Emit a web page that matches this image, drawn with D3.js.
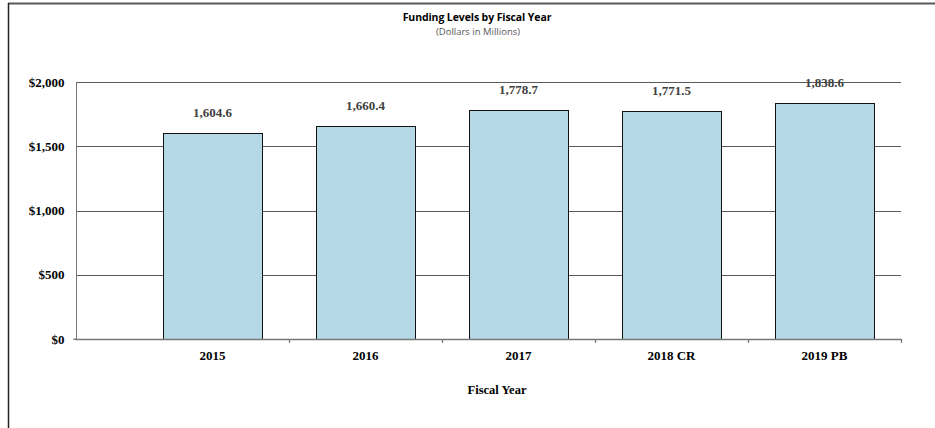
<!DOCTYPE html>
<html>
<head>
<meta charset="utf-8">
<script src="https://cdn.jsdelivr.net/npm/d3@7"></script>
<style>
  html, body { margin: 0; padding: 0; background: #fff; }
  svg { display: block; }
</style>
</head>
<body>
<svg id="chart" width="935" height="428"></svg>
<script>
const categories = ["2015", "2016", "2017", "2018 CR", "2019 PB"];
const values = [1604.6, 1660.4, 1778.7, 1771.5, 1838.6];
const yTicks = [0, 500, 1000, 1500, 2000];
const title = "Funding Levels by Fiscal Year";
const subtitle = "(Dollars in Millions)";
const xTitle = "Fiscal Year";

const svg = d3.select("#chart");
const W = 935, H = 428;

// outer border
svg.append("line").attr("x1", 8).attr("x2", W).attr("y1", 3.5).attr("y2", 3.5)
  .attr("stroke", "#595959").attr("stroke-width", 2);
svg.append("line").attr("x1", 8.5).attr("x2", 8.5).attr("y1", 3).attr("y2", H)
  .attr("stroke", "#222").attr("stroke-width", 1.5);

const axisLeft = 76, plotRight = 901;
const y = d3.scaleLinear().domain([0, 2000]).range([339, 82]);
const x = d3.scaleBand().domain(categories).range([136, plotRight])
  .paddingInner(0.355).paddingOuter(0.1775);

// gridlines
svg.append("g").selectAll("line").data(yTicks.filter(d => d > 0)).join("line")
  .attr("x1", axisLeft).attr("x2", plotRight)
  .attr("y1", d => Math.round(y(d)) + 0.5).attr("y2", d => Math.round(y(d)) + 0.5)
  .attr("stroke", "#595959").attr("stroke-width", 1);

// y axis
const yAxis = svg.append("g").attr("transform", `translate(${axisLeft + 0.5},0)`)
  .call(d3.axisLeft(y).tickValues(yTicks).tickSize(3).tickFormat(d => "$" + d3.format(",")(d)));
yAxis.select(".domain").attr("stroke", "#777").attr("d", `M-3,${y(0)}H0V${y(2000)}`);
yAxis.selectAll(".tick line").attr("stroke", "#777");
yAxis.selectAll(".tick text").attr("x", -12)
  .attr("font-family", "Liberation Serif, Times New Roman, serif")
  .attr("font-weight", "bold").attr("font-size", 13).attr("fill", "#000");
yAxis.selectAll(".tick").filter(d => d > 0).select("line").remove();

// bars
svg.append("g").selectAll("rect").data(values).join("rect")
  .attr("x", (d, i) => Math.round(x(categories[i])) + 0.5)
  .attr("y", d => Math.round(y(d)) + 0.5)
  .attr("width", Math.round(x.bandwidth()))
  .attr("height", d => Math.round(y(0)) - Math.round(y(d)))
  .attr("fill", "#B5D8E7").attr("stroke", "#111").attr("stroke-width", 1);

// baseline
svg.append("line").attr("x1", axisLeft).attr("x2", plotRight)
  .attr("y1", Math.round(y(0)) + 0.5).attr("y2", Math.round(y(0)) + 0.5)
  .attr("stroke", "#777").attr("stroke-width", 1.3);

// category boundary ticks
const step = x.step();
const bounds = categories.map(c => x(c) + x.bandwidth() + step * x.paddingInner() / 2);
svg.append("g").selectAll("line").data(bounds).join("line")
  .attr("x1", d => Math.round(d) + 0.5).attr("x2", d => Math.round(d) + 0.5)
  .attr("y1", y(0)).attr("y2", y(0) + 4)
  .attr("stroke", "#777").attr("stroke-width", 1.3);

// category labels
svg.append("g").selectAll("text").data(categories).join("text")
  .attr("x", d => x(d) + x.bandwidth() / 2).attr("y", 360)
  .attr("text-anchor", "middle")
  .attr("font-family", "Liberation Serif, Times New Roman, serif")
  .attr("font-weight", "bold").attr("font-size", 13).attr("fill", "#000")
  .text(d => d);

// value labels
svg.append("g").selectAll("text").data(values).join("text")
  .attr("x", (d, i) => x(categories[i]) + x.bandwidth() / 2)
  .attr("y", d => y(d) - 16)
  .attr("text-anchor", "middle")
  .attr("font-family", "Liberation Serif, Times New Roman, serif")
  .attr("font-weight", "bold").attr("font-size", 13).attr("fill", "#404040")
  .text(d => d3.format(",.1f")(d));

// axis title
svg.append("text").attr("x", 497).attr("y", 394).attr("text-anchor", "middle")
  .attr("font-family", "Liberation Serif, Times New Roman, serif")
  .attr("font-weight", "bold").attr("font-size", 12.5).attr("fill", "#000")
  .text(xTitle);

// titles
svg.append("text").attr("x", 477).attr("y", 21).attr("text-anchor", "middle")
  .attr("font-family", "Open Sans, Liberation Sans, sans-serif")
  .attr("font-weight", "bold").attr("font-size", 10.5).attr("fill", "#000")
  .attr("letter-spacing", -0.1)
  .text(title);
svg.append("text").attr("x", 478).attr("y", 35).attr("text-anchor", "middle")
  .attr("font-family", "Open Sans, Liberation Sans, sans-serif")
  .attr("font-size", 9.5).attr("fill", "#595959")
  .text(subtitle);
</script>
</body>
</html>
